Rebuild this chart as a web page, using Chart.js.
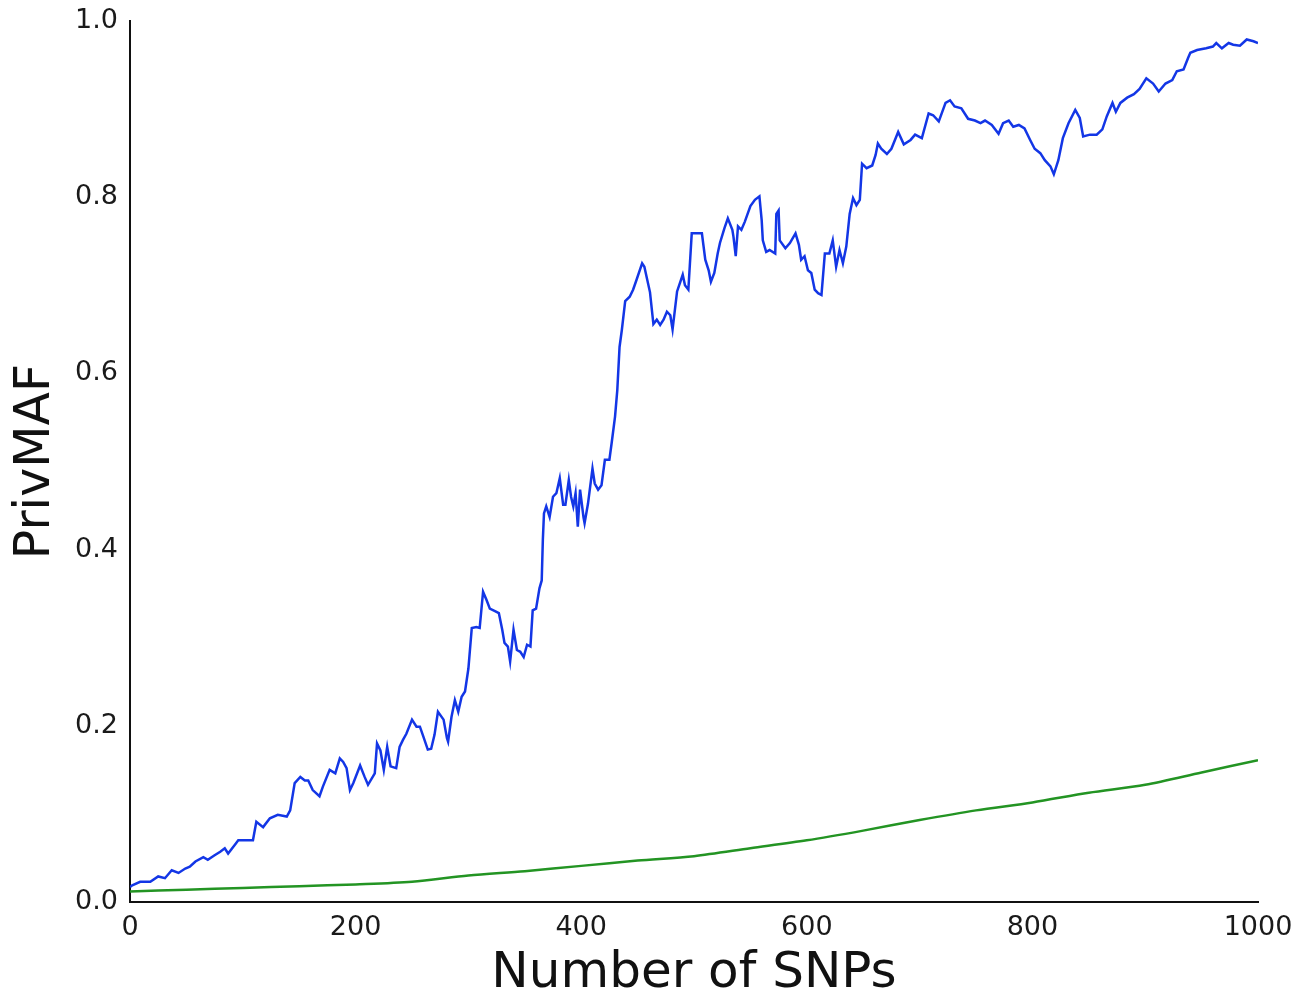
<!DOCTYPE html>
<html>
<head>
<meta charset="utf-8">
<title>PrivMAF vs Number of SNPs</title>
<script src="https://cdn.jsdelivr.net/npm/chart.js@4.4.1/dist/chart.umd.min.js"></script>
<style>
  html, body { margin: 0; padding: 0; background: #ffffff; }
  #wrap { width: 1316px; height: 1000px; }
</style>
</head>
<body>
<div id="wrap"><canvas id="chart" width="1316" height="1000"></canvas></div>
<script>
// SNP counts and PrivMAF values for the first series (blue)
const blueSnps = [
  0, 2, 9, 18, 25, 31, 37, 43, 49, 53, 58, 65, 69, 75, 80, 84, 87, 93, 96, 109,
  112, 118, 124, 131, 139, 142, 146, 151, 155, 158, 162, 168, 171, 177, 182, 186, 189, 192, 195, 198,
  204, 208, 211, 217, 219, 222, 225, 228, 231, 236, 239, 242, 245, 250, 254, 257, 260, 264, 267, 270,
  273, 278, 281, 282, 285, 288, 291, 294, 297, 300, 303, 307, 310, 313, 316, 319, 324, 327, 330, 332,
  335, 337, 340, 343, 346, 349, 352, 355, 357, 360, 363, 365, 366, 367, 369, 372, 375, 378, 381, 384,
  386, 389, 391, 393, 395, 397, 399, 402, 403, 406, 410, 412, 415, 418, 421, 425, 427, 430, 432, 434,
  436, 439, 443, 446, 449, 454, 456, 461, 464, 467, 470, 473, 476, 479, 481, 485, 490, 492, 495, 498,
  502, 507, 510, 513, 515, 518, 521, 523, 527, 530, 534, 535, 537, 539, 542, 545, 550, 554, 558, 560,
  561, 564, 567, 572, 573, 575, 576, 581, 585, 590, 593, 595, 598, 601, 604, 607, 610, 613, 616, 620,
  623, 626, 629, 632, 635, 638, 641, 644, 647, 649, 653, 658, 661, 663, 666, 671, 675, 681, 686, 692,
  696, 702, 708, 712, 717, 723, 727, 731, 737, 743, 749, 754, 758, 764, 770, 774, 779, 783, 788, 793,
  798, 802, 807, 811, 816, 819, 823, 827, 832, 838, 842, 845, 851, 857, 862, 866, 871, 874, 878, 884,
  890, 895, 901, 907, 912, 918, 924, 928, 934, 938, 940, 946, 954, 960, 963, 968, 974, 978, 984, 990,
  996, 1000
];
const bluePrivMAF = [
  0.017, 0.019, 0.023, 0.023, 0.029, 0.027, 0.036, 0.033, 0.038, 0.040, 0.046, 0.051, 0.048, 0.053, 0.057, 0.061, 0.055, 0.065, 0.070, 0.070,
  0.091, 0.085, 0.095, 0.099, 0.097, 0.104, 0.135, 0.142, 0.138, 0.138, 0.127, 0.120, 0.131, 0.150, 0.146, 0.163, 0.159, 0.152, 0.127, 0.135,
  0.155, 0.142, 0.133, 0.146, 0.180, 0.172, 0.150, 0.176, 0.154, 0.152, 0.176, 0.184, 0.191, 0.207, 0.199, 0.199, 0.188, 0.173, 0.174, 0.190,
  0.216, 0.207, 0.186, 0.182, 0.210, 0.229, 0.216, 0.233, 0.239, 0.265, 0.311, 0.312, 0.311, 0.352, 0.343, 0.333, 0.330, 0.328, 0.309, 0.294,
  0.290, 0.273, 0.309, 0.286, 0.284, 0.278, 0.292, 0.290, 0.331, 0.333, 0.356, 0.365, 0.411, 0.441, 0.449, 0.437, 0.460, 0.464, 0.481, 0.451,
  0.451, 0.479, 0.460, 0.449, 0.464, 0.426, 0.468, 0.437, 0.430, 0.452, 0.492, 0.475, 0.468, 0.473, 0.502, 0.502, 0.521, 0.551, 0.581, 0.630,
  0.649, 0.682, 0.687, 0.695, 0.706, 0.725, 0.721, 0.692, 0.656, 0.661, 0.655, 0.661, 0.670, 0.666, 0.650, 0.693, 0.712, 0.700, 0.695, 0.759,
  0.759, 0.759, 0.729, 0.717, 0.704, 0.714, 0.736, 0.748, 0.765, 0.776, 0.763, 0.755, 0.733, 0.767, 0.763, 0.772, 0.790, 0.797, 0.801, 0.774,
  0.751, 0.738, 0.740, 0.736, 0.781, 0.785, 0.751, 0.742, 0.748, 0.759, 0.746, 0.729, 0.733, 0.717, 0.714, 0.695, 0.691, 0.689, 0.736, 0.736,
  0.751, 0.721, 0.740, 0.725, 0.744, 0.781, 0.799, 0.791, 0.797, 0.838, 0.833, 0.836, 0.848, 0.861, 0.855, 0.849, 0.855, 0.874, 0.860, 0.865,
  0.871, 0.867, 0.895, 0.893, 0.886, 0.907, 0.910, 0.903, 0.901, 0.889, 0.887, 0.884, 0.887, 0.882, 0.872, 0.884, 0.887, 0.880, 0.882, 0.878,
  0.865, 0.855, 0.850, 0.842, 0.835, 0.826, 0.842, 0.867, 0.884, 0.899, 0.890, 0.869, 0.871, 0.871, 0.877, 0.892, 0.907, 0.897, 0.907, 0.913,
  0.917, 0.923, 0.935, 0.929, 0.920, 0.929, 0.933, 0.943, 0.945, 0.958, 0.964, 0.967, 0.969, 0.971, 0.975, 0.969, 0.975, 0.973, 0.972, 0.979,
  0.977, 0.975
];

// SNP counts and PrivMAF values for the second series (green)
const greenSnps = [0, 50, 100, 150, 200, 250, 300, 350, 400, 450, 500, 550, 600, 650, 700, 750, 800, 850, 900, 950, 1000];
const greenPrivMAF = [0.012, 0.014, 0.016, 0.018, 0.020, 0.023, 0.030, 0.035, 0.041, 0.047, 0.052, 0.061, 0.070, 0.081, 0.093, 0.104, 0.113, 0.124, 0.133, 0.147, 0.161];

// Axis ranges and tick spacing
const xTicks = [0, 200, 400, 600, 800, 1000];
const yTicks = [0.0, 0.2, 0.4, 0.6, 0.8, 1.0];

const toPoints = (xs, ys) => xs.map((x, i) => ({ x: x, y: ys[i] }));

const FONT = 'DejaVu Sans, Bitstream Vera Sans, sans-serif';

new Chart(document.getElementById('chart'), {
  type: 'line',
  data: {
    datasets: [
      {
        data: toPoints(blueSnps, bluePrivMAF),
        borderColor: '#1336e6',
        borderWidth: 2.5,
        pointRadius: 0,
        tension: 0,
        fill: false
      },
      {
        data: toPoints(greenSnps, greenPrivMAF),
        borderColor: '#239423',
        borderWidth: 2.5,
        pointRadius: 0,
        tension: 0.3,
        fill: false
      }
    ]
  },
  options: {
    responsive: false,
    devicePixelRatio: 1,
    animation: false,
    events: [],
    layout: { padding: { top: 21, right: 58, bottom: 0, left: 0 } },
    plugins: {
      legend: { display: false },
      tooltip: { enabled: false },
      title: { display: false }
    },
    scales: {
      x: {
        type: 'linear',
        min: xTicks[0],
        max: xTicks[xTicks.length - 1],
        afterBuildTicks: (scale) => { scale.ticks = xTicks.map(v => ({ value: v })); },
        afterFit: (scale) => {
          scale.height = 98;
          scale.paddingLeft = 0; scale.paddingRight = 0;
          scale.paddingTop = 0; scale.paddingBottom = 0;
        },
        grid: { display: false, drawTicks: false },
        border: { display: true, color: '#111111', width: 2 },
        ticks: {
          padding: 10,
          maxRotation: 0,
          color: '#1a1a1a',
          font: { family: FONT, size: 27 },
          callback: (v) => String(v)
        },
        title: {
          display: true,
          text: 'Number of SNPs',
          color: '#111111',
          font: { family: FONT, size: 50 },
          padding: { top: 0, bottom: -4 }
        }
      },
      y: {
        type: 'linear',
        min: yTicks[0],
        max: yTicks[yTicks.length - 1],
        afterBuildTicks: (scale) => { scale.ticks = yTicks.map(v => ({ value: v })); },
        afterFit: (scale) => {
          scale.width = 130;
          scale.paddingLeft = 0; scale.paddingRight = 0;
          scale.paddingTop = 0; scale.paddingBottom = 0;
        },
        grid: { display: false, drawTicks: false },
        border: { display: true, color: '#111111', width: 2 },
        ticks: {
          padding: 12,
          color: '#1a1a1a',
          font: { family: FONT, size: 27 },
          callback: (v) => Number(v).toFixed(1)
        },
        title: {
          display: true,
          text: 'PrivMAF',
          color: '#111111',
          font: { family: FONT, size: 49 },
          padding: { top: 7, bottom: 0 }
        }
      }
    }
  }
});
</script>
</body>
</html>
